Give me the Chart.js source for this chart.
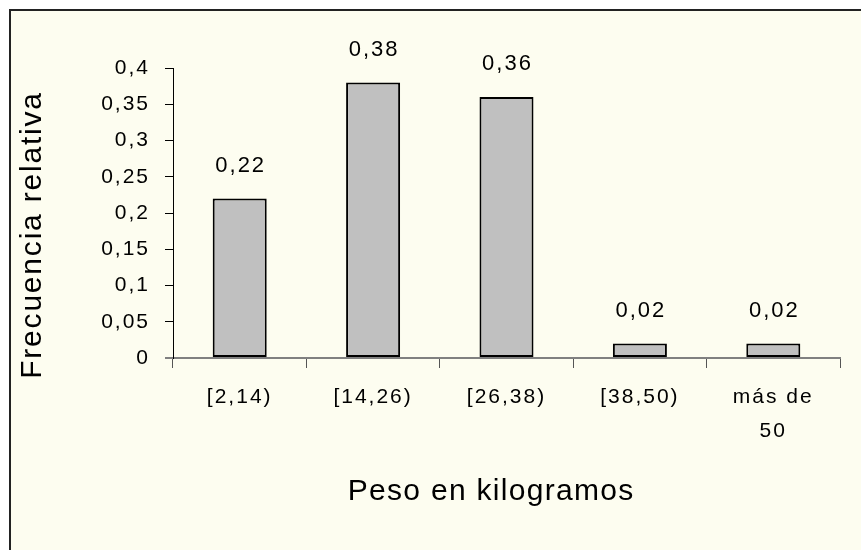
<!DOCTYPE html>
<html>
<head>
<meta charset="utf-8">
<script src="https://cdn.jsdelivr.net/npm/chart.js@4/dist/chart.umd.min.js"></script>
<style>
  html, body { margin: 0; padding: 0; background: #fff; overflow: hidden; }
  #frame {
    position: absolute; left: 9px; top: 9px; width: 900px; height: 600px;
    border-left: 2px solid #222; border-top: 2px solid #222;
    background: #fdfdf0;
  }
  #wrap { position: absolute; left: 0; top: 0; width: 861px; height: 550px; }
</style>
</head>
<body>
<div id="frame"></div>
<div id="wrap"><canvas id="chart"></canvas></div>
<script>
const categories = [['[2,14)'], ['[14,26)'], ['[26,38)'], ['[38,50)'], ['más de', '50']];
const frecuencias = [0.22, 0.38, 0.36, 0.02, 0.02];
const valueLabels = ['0,22', '0,38', '0,36', '0,02', '0,02'];
const yTickLabels = ['0', '0,05', '0,1', '0,15', '0,2', '0,25', '0,3', '0,35', '0,4'];
const xTitle = 'Peso en kilogramos';
const yTitle = 'Frecuencia relativa';

const FONT = 'Liberation Sans, Arial, sans-serif';

// espaciado de letras como en el original
const spacing = {
    id: 'spacing',
    beforeDraw(chart) { chart.ctx.letterSpacing = '2px'; }
};

// etiquetas de valor sobre las barras y titulos de ejes
const extras = {
    id: 'extras',
    afterDatasetsDraw(chart) {
        const ctx = chart.ctx;
        ctx.save();
        ctx.font = '22px ' + FONT;
        ctx.fillStyle = '#000';
        ctx.textAlign = 'center';
        ctx.textBaseline = 'middle';
        chart.getDatasetMeta(0).data.forEach((bar, i) => {
            ctx.fillText(valueLabels[i], bar.x + 1, bar.y - 33);
        });
        ctx.restore();
    },
    afterDraw(chart) {
        const ctx = chart.ctx;
        const a = chart.chartArea;
        ctx.save();
        ctx.font = '30px ' + FONT;
        ctx.letterSpacing = '1.3px';
        ctx.fillStyle = '#000';
        ctx.textAlign = 'center';
        ctx.textBaseline = 'middle';
        ctx.fillText(xTitle, a.left + (a.right - a.left) * 0.477, a.bottom + 134);
        ctx.letterSpacing = '1.8px';
        ctx.translate(33, (a.top + a.bottom) / 2 + 22);
        ctx.rotate(-Math.PI / 2);
        ctx.fillText(yTitle, 0, 0);
        ctx.restore();
    }
};

new Chart(document.getElementById('chart'), {
    type: 'bar',
    data: {
        labels: categories,
        datasets: [{
            data: frecuencias,
            backgroundColor: '#c0c0c0',
            borderColor: '#000',
            borderWidth: 2,
            borderSkipped: false,
            barPercentage: 0.405,
            categoryPercentage: 1
        }]
    },
    options: {
        responsive: true,
        maintainAspectRatio: false,
        animation: false,
        layout: { padding: { top: 68, right: 21, bottom: 0, left: 0 } },
        plugins: { legend: { display: false }, tooltip: { enabled: false } },
        scales: {
            x: {
                grid: { offset: true, drawOnChartArea: false, tickLength: 10, color: '#555' },
                border: { color: '#808080', width: 2 },
                ticks: { color: '#000', font: { family: FONT, size: 21, lineHeight: 1.62 }, padding: 12, maxRotation: 0, autoSkip: false },
                afterFit(scale) { scale.height = 192; }
            },
            y: {
                min: 0,
                max: 0.4,
                grid: {
                    drawOnChartArea: false, tickLength: 8,
                    color: ctx => ctx.index === 0 ? '#808080' : '#000',
                    lineWidth: ctx => ctx.index === 0 ? 2 : 1
                },
                border: { color: '#000', width: 1 },
                ticks: {
                    stepSize: 0.05,
                    color: '#000',
                    font: { family: FONT, size: 21 },
                    padding: 15,
                    callback: (v, i) => yTickLabels[i]
                },
                afterFit(scale) { scale.width = 173; }
            }
        }
    },
    plugins: [spacing, extras]
});
</script>
</body>
</html>
